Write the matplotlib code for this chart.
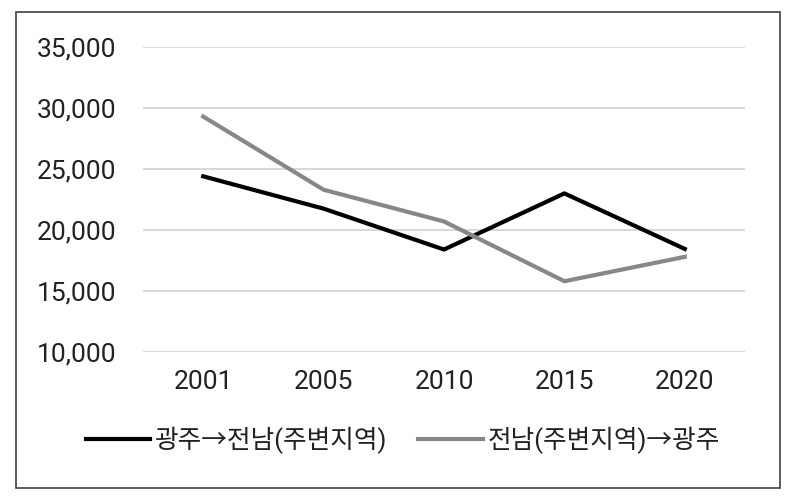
import matplotlib
matplotlib.use("Agg")
import matplotlib.pyplot as plt
from matplotlib.patches import Rectangle
from matplotlib.ticker import FuncFormatter

years = ["2001", "2005", "2010", "2015", "2020"]
gwangju_to_jeonnam = [24400, 21750, 18400, 23000, 18450]
jeonnam_to_gwangju = [29300, 23300, 20700, 15800, 17800]
series_names = ["광주→전남(주변지역)", "전남(주변지역)→광주"]
y_ticks = [10000, 15000, 20000, 25000, 30000, 35000]

plt.rcParams['font.family'] = ['Roboto', 'Noto Sans CJK KR', 'DejaVu Sans']

fig = plt.figure(figsize=(7.96, 5.01), dpi=100)
ax = fig.add_axes([143/796, 1-352/501, (745-143)/796, (352-47)/501])

x = list(range(len(years)))
ax.plot(x, gwangju_to_jeonnam, color="#000000", lw=3.0, label=series_names[0], zorder=2)
ax.plot(x, jeonnam_to_gwangju, color="#878787", lw=3.0, label=series_names[1], zorder=3)

ax.set_xlim(-0.5, len(years)-0.5)
ax.set_ylim(10000, 35000)
ax.set_yticks(y_ticks)
ax.yaxis.set_major_formatter(FuncFormatter(lambda v, p: f"{int(v):,}"))
ax.set_xticks(x)
ax.set_xticklabels(years)
ax.grid(axis='y', color="#d9d9d9", lw=1.5)
ax.set_axisbelow(True)
for s in ax.spines.values():
    s.set_visible(False)
ax.tick_params(axis='both', length=0, labelsize=19, colors="#222222")
ax.tick_params(axis='y', pad=19)
ax.tick_params(axis='x', pad=13)

fig.legend(loc='center', bbox_to_anchor=(403/796, 1-440/501), ncol=2, frameon=False,
           fontsize=18.5, handlelength=2.5, handletextpad=0.2, columnspacing=1.2,
           labelcolor="#222222")

fig.patches.append(Rectangle((16/796, 1-488/501), 764/796, 476/501, transform=fig.transFigure,
                             fill=False, edgecolor="#404040", lw=1.2))

fig.savefig("out.png", dpi=100)
